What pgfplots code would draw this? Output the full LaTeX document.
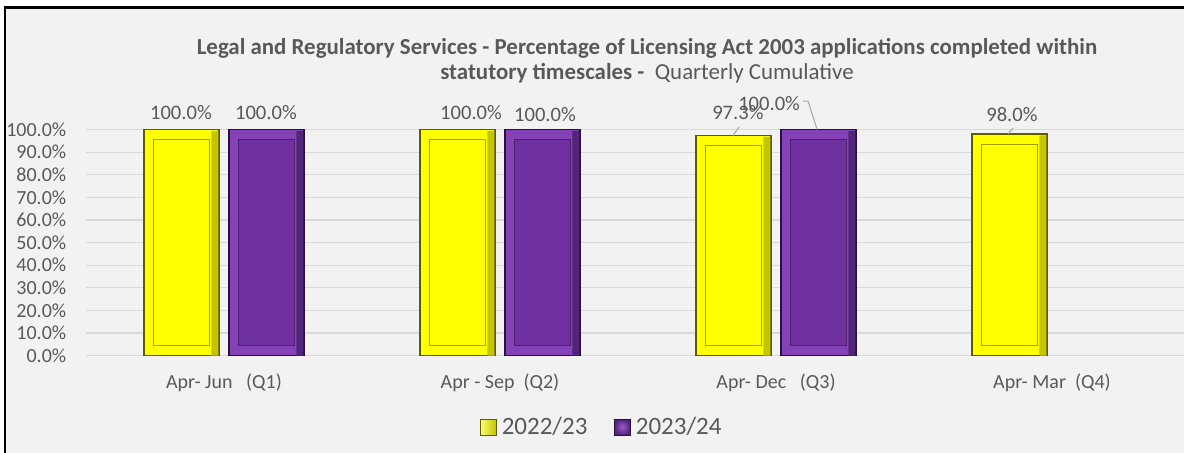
\documentclass[border=0pt]{standalone}
\usepackage{fontspec}
\setmainfont{Carlito}
\usepackage{pgfplots}
\pgfplotsset{compat=1.18}
\usepackage{pgfplotstable}

\definecolor{bg}{HTML}{F2F2F2}
\definecolor{txt}{HTML}{595959}
\definecolor{gridc}{HTML}{D9D9D9}
\definecolor{lead}{HTML}{A6A6A6}
\definecolor{yel}{HTML}{FFFF00}
\definecolor{yelL}{HTML}{FFFF70}
\definecolor{yelR}{HTML}{C4C400}
\definecolor{yelD}{HTML}{5E5E00}
\definecolor{yelI}{HTML}{A0A000}
\definecolor{pur}{HTML}{7030A0}
\definecolor{purO}{HTML}{8442B6}
\definecolor{purL}{HTML}{9A5ACB}
\definecolor{purR}{HTML}{50267A}
\definecolor{purD}{HTML}{2B0F40}
\definecolor{purI}{HTML}{4A1F6B}

\pgfplotstableread{
x v
0 100
1 100
2 97.3
3 98
}\tA
\pgfplotstableread{
x v
0 100
1 100
2 100
}\tB

\begin{document}
\begin{tikzpicture}
\useasboundingbox (0,0) rectangle (592pt,226pt);
\fill[white] (0,0) rectangle (592pt,226pt);
\fill[bg] (2.5pt,-1pt) rectangle (594pt,222.25pt);
\draw[line width=1.25pt, black] (2.5pt,-2pt) -- (2.5pt,222.25pt) -- (595pt,222.25pt);

\begin{axis}[
  at={(43pt,48.15pt)}, anchor=south west,
  scale only axis, width=552pt, height=113.1pt,
  xmin=-0.5, xmax=3.5, ymin=0, ymax=100,
  clip=false,
  axis line style={draw=none}, major tick length=0pt, tick style={draw=none},
  ymajorgrids, grid style={gridc, line width=0.6pt},
  ytick={0,10,...,100},
  yticklabel={\pgfmathprintnumber[fixed,fixed zerofill,precision=1,assume math mode=true]{\tick}\%},
  yticklabel style={anchor=east, inner sep=0pt, xshift=-9.7pt, text=txt, font=\fontsize{10}{12}\selectfont},
  xtick={0,1,2,3},
  xticklabels={{Apr- Jun\ \ \ (Q1)},{Apr - Sep\ \ (Q2)},{Apr- Dec\ \ \ (Q3)},{Apr- Mar\ \ (Q4)}},
  xticklabel style={anchor=base, inner sep=0pt, yshift=-16.4pt, text=txt, font=\fontsize{10}{12}\selectfont},
  legend columns=2,
  legend style={at={(axis description cs:0.3565,-0.3152)}, anchor=west,
    draw=none, fill=none, inner sep=0pt, outer sep=0pt,
    font=\fontsize{12.5}{14}\selectfont, text=txt,
    nodes={inner ysep=0pt, inner xsep=2.6pt},
    /tikz/every even column/.append style={column sep=10.5pt}},
]
\addplot[ybar, bar width=37.5pt, bar shift=-21.25pt, draw=yelD, line width=0.6pt, fill=yel,
  legend image code/.code={\draw[draw=yelD, line width=0.5pt, left color=yelL, middle color=yel, right color=yelR] (0pt,-4pt) rectangle (8pt,4pt);}]
  table[x=x,y=v]{\tA};
\addlegendentry{2022/23}
\addplot[ybar, bar width=37.5pt, bar shift=21.25pt, draw=purD, line width=0.6pt, fill=purO,
  legend image code/.code={\draw[draw=purD, line width=0.5pt, inner color=purL, outer color=purR] (0pt,-4pt) rectangle (8pt,4pt);}]
  table[x=x,y=v]{\tB};
\addlegendentry{2023/24}
% darker right-hand bevel bands
\addplot[ybar, bar width=3.5pt, bar shift=-4.6pt, draw=none, fill=yelR, forget plot]
  table[x=x,y expr=\thisrow{v}-0.6]{\tA};
\addplot[ybar, bar width=3.5pt, bar shift=37.9pt, draw=none, fill=purR, forget plot]
  table[x=x,y expr=\thisrow{v}-0.6]{\tB};

% data labels
\tikzset{lbl/.style={text=txt, font=\fontsize{10.3}{12}\selectfont, inner sep=0pt}}
\node[lbl] at (axis cs:-0.156,107.3) {100.0\%};
\node[lbl] at (axis cs:0.152,107.3) {100.0\%};
\node[lbl] at (axis cs:0.895,107.3) {100.0\%};
\node[lbl] at (axis cs:1.163,106.4) {100.0\%};
\node[lbl] at (axis cs:1.862,107.7) {97.3\%};
\node[lbl] at (axis cs:1.975,111.3) {100.0\%};
\node[lbl] at (axis cs:2.855,106.4) {98.0\%};
\draw[lead, line width=0.5pt] (axis cs:1.866,101.1) -- (axis cs:1.844,97.3);
\draw[lead, line width=0.5pt] (axis cs:2.098,112.6) -- (axis cs:2.116,112.6) -- (axis cs:2.149,100);
\draw[lead, line width=0.5pt] (axis cs:2.859,100.7) -- (axis cs:2.841,98);
\end{axis}

% inner bevel rectangles
\begin{axis}[
  at={(43pt,48.15pt)}, anchor=south west,
  scale only axis, width=552pt, height=113.1pt,
  xmin=-0.5, xmax=3.5, ymin=-4.42, ymax=95.58,
  hide axis, clip=false,
]
\addplot[ybar, bar width=28pt, bar shift=-21.5pt, draw=yelI, line width=0.4pt, fill=yel]
  table[x=x,y expr=\thisrow{v}-8.84]{\tA};
\addplot[ybar, bar width=28pt, bar shift=21.25pt, draw=purI, line width=0.4pt, fill=pur]
  table[x=x,y expr=\thisrow{v}-8.84]{\tB};
\end{axis}

\node[anchor=base, text=txt, font=\bfseries\fontsize{11.45}{13}\selectfont, inner sep=0pt]
  at (323.5pt,198.75pt) {Legal and Regulatory Services - Percentage of Licensing Act 2003 applications completed within};
\node[anchor=base, text=txt, font=\fontsize{11.45}{13}\selectfont, inner sep=0pt]
  at (323.5pt,186.25pt) {\textbf{statutory timescales -}\ \ Quarterly Cumulative};
\end{tikzpicture}
\end{document}
